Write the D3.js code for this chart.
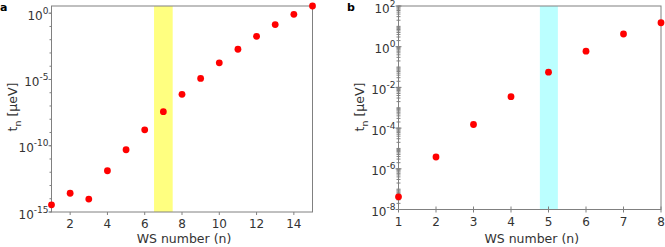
<!DOCTYPE html>
<html><head><meta charset="utf-8">
<script src="https://cdn.jsdelivr.net/npm/d3@7"></script>
<style>
body{margin:0;background:#fff;}
text{font-family:"DejaVu Sans",sans-serif;}
</style></head>
<body><svg id="c" width="665" height="247"></svg>
<script>
// Panel a data
const nA = [1,2,3,4,5,6,7,8,9,10,11,12,13,14,15];
const tA = [3.5e-15,2.6e-14,9.5e-15,1.3e-12,5.0e-11,1.6e-9,3.7e-8,7.6e-7,1.2e-5,1.8e-4,1.9e-3,1.8e-2,0.14,0.83,3.5];
const xTicksA = [2,4,6,8,10,12,14];
const yMajorA = [-15,-10,-5,0];
const bandA = [6.5,7.5];
// Panel b data
const nB = [1,2,3,4,5,6,7,8];
const tB = [4.2e-8,3.8e-6,1.5e-4,3.5e-3,5.6e-2,0.6,4.2,15];
const xTicksB = [1,2,3,4,5,6,7,8];
const yMajorB = [-8,-6,-4,-2,0,2];
const bandB = [4.77,5.25];

const svg = d3.select("#c");
const axisCol = "#808080", textCol = "#333";

function panel(o){
  const g = svg.append("g");
  const x = d3.scaleLinear().domain(o.xdom).range([o.l,o.r]);
  const y = d3.scaleLog().domain(o.ydom).range([o.b,o.t]);
  // band
  g.append("rect").attr("x",x(o.band[0])).attr("y",o.t)
    .attr("width",x(o.band[1])-x(o.band[0])).attr("height",o.b-o.t)
    .attr("fill",o.bandCol);
  // y ticks
  const yAx = g.append("g").attr("transform",`translate(${o.l},0)`);
  o.minor.forEach(v=>{
    yAx.append("line").attr("x1",o.minIn?-2:-2).attr("x2",o.minIn?2:0)
      .attr("y1",y(v)).attr("y2",y(v)).attr("stroke",axisCol).attr("stroke-width",1);
  });
  o.ymaj.forEach(e=>{
    const v = Math.pow(10,e);
    yAx.append("line").attr("x1",-3).attr("x2",o.minIn?3:0)
      .attr("y1",y(v)).attr("y2",y(v)).attr("stroke",axisCol);
    const t = yAx.append("text").attr("x",-3).attr("y",y(v)+6.5)
      .attr("text-anchor","end").attr("fill",textCol).attr("font-size","12px");
    t.append("tspan").text("10");
    t.append("tspan").attr("dy",-6).attr("font-size","9px").text(e<0?"-"+(-e):String(e));
  });
  // x ticks
  o.xt.forEach(v=>{
    g.append("line").attr("x1",x(v)).attr("x2",x(v))
      .attr("y1",o.b-(o.minIn?3:0)).attr("y2",o.b+3).attr("stroke",axisCol);
    g.append("text").attr("x",x(v)).attr("y",o.b+16).attr("text-anchor","middle")
      .attr("fill",textCol).attr("font-size","12px").text(v);
  });
  // frame
  g.append("rect").attr("x",o.l).attr("y",o.t).attr("width",o.r-o.l).attr("height",o.b-o.t)
    .attr("fill","none").attr("stroke",axisCol).attr("stroke-width",1);
  // points
  g.selectAll("circle.p").data(o.n.map((d,i)=>[d,o.v[i]])).enter().append("circle")
    .attr("cx",d=>x(d[0])).attr("cy",d=>y(d[1])).attr("r",3.4).attr("fill","#ff0000");
  // labels
  g.append("text").attr("x",(o.l+o.r)/2+2).attr("y",243).attr("text-anchor","middle")
    .attr("fill",textCol).attr("font-size","12.5px").text("WS number (n)");
  const yl = g.append("text").attr("transform",`translate(${o.yl},107) rotate(-90)`)
    .attr("text-anchor","middle").attr("fill",textCol).attr("font-size","12.5px");
  yl.append("tspan").text("t");
  yl.append("tspan").attr("dy",4).attr("font-size","9.5px").text("n");
  yl.append("tspan").attr("dy",-4).text(" [μeV]");
  g.append("text").attr("x",o.px).attr("y",11).attr("font-weight","bold")
    .attr("font-size","11px").attr("fill","#000").text(o.name);
}

// minor ticks
const minorA = d3.range(-15,1).map(e=>Math.pow(10,e));
const minorB = [];
for(let e=-8;e<2;e++) for(let k=1;k<10;k++) minorB.push(k*Math.pow(10,e));
minorB.push(100);

panel({l:51.5,r:312.5,t:6,b:212,xdom:[1,15],ydom:[1e-15,3.5],band:bandA,bandCol:"#ffff80",
  xt:xTicksA,ymaj:yMajorA,minor:minorA,minIn:false,n:nA,v:tA,yl:17,px:0,name:"a"});
panel({l:398.5,r:661,t:6,b:209.5,xdom:[1,8],ydom:[1e-8,100],band:bandB,bandCol:"#bbffff",
  xt:xTicksB,ymaj:yMajorB,minor:minorB,minIn:true,n:nB,v:tB,yl:364,px:347,name:"b"});
</script></body></html>
